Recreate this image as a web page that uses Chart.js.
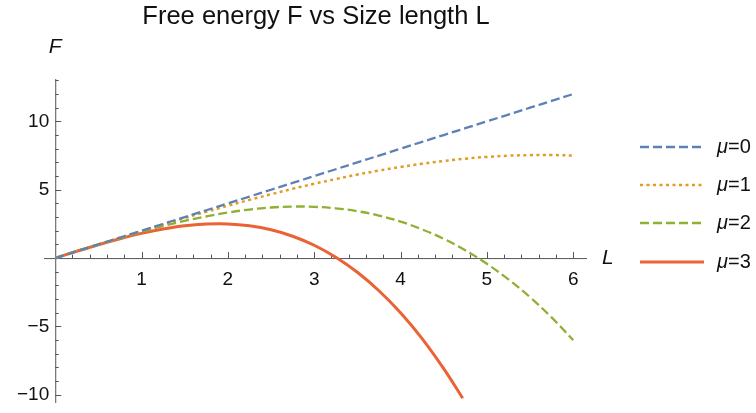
<!DOCTYPE html>
<html>
<head>
<meta charset="utf-8">
<script src="https://cdn.jsdelivr.net/npm/chart.js@4/dist/chart.umd.min.js"></script>
<style>
    html, body { margin: 0; padding: 0; background: #fff; }
    #wrap { width: 756px; height: 413px; position: relative; }
</style>
</head>
<body>
<div id="wrap"><canvas id="freeEnergyChart" width="756" height="413"></canvas></div>
<script>
const lengths = [0, 0.25, 0.5, 0.75, 1, 1.25, 1.5, 1.75, 2, 2.25, 2.5, 2.75, 3, 3.25, 3.5, 3.75, 4, 4.25, 4.5, 4.75, 5, 5.25, 5.5, 5.75, 6];
const lengthsMu3 = [0, 0.25, 0.5, 0.75, 1, 1.25, 1.5, 1.75, 2, 2.25, 2.5, 2.75, 3, 3.25, 3.5, 3.75, 4, 4.25, 4.5, 4.72];

const energyMu0 = [0, 0.5, 1, 1.5, 2, 2.5, 3, 3.5, 4, 4.5, 5, 5.5, 6, 6.5, 7, 7.5, 8, 8.5, 9, 9.5, 10, 10.5, 11, 11.5, 12];
const energyMu1 = [0, 0.5, 1.0, 1.49, 1.98, 2.46, 2.93, 3.39, 3.83, 4.26, 4.67, 5.07, 5.44, 5.78, 6.11, 6.40, 6.67, 6.90, 7.10, 7.27, 7.40, 7.49, 7.53, 7.54, 7.50];
const energyMu2 = [0, 0.5, 0.99, 1.46, 1.92, 2.34, 2.72, 3.05, 3.33, 3.55, 3.70, 3.77, 3.75, 3.64, 3.43, 3.11, 2.67, 2.10, 1.41, 0.57, -0.42, -1.56, -2.86, -4.34, -6.00];
const energyMu3 = [0, 0.5, 0.98, 1.42, 1.81, 2.13, 2.37, 2.49, 2.50, 2.36, 2.07, 1.60, 0.94, 0.06, -1.04, -2.39, -4.00, -5.89, -8.09, -10.25];

const seriesLabels = ['0', '1', '2', '3'];
const xTickLabels = ['1', '2', '3', '4', '5', '6'];
const yTickValues = [-10, -5, 5, 10];

const FONT = '"Liberation Sans", Arial, sans-serif';
const colors = ['#5e81b5', '#e19c24', '#8fb032', '#eb6235'];
const dashes = [[9, 4], [3, 3.5], [9, 4], []];
const widths = [2.3, 2.5, 2.3, 3];

const toPoints = (xs, ys) => ys.map((y, i) => ({x: xs[i], y: y}));

// axes through the origin, with Mathematica-style inward ticks
const originAxes = {
    id: 'originAxes',
    beforeDatasetsDraw(chart) {
        const {ctx, scales: {x, y}} = chart;
        const x0 = x.getPixelForValue(0);
        const y0 = y.getPixelForValue(0);
        ctx.save();
        ctx.strokeStyle = '#555';
        ctx.lineWidth = 1;

        ctx.beginPath();
        ctx.moveTo(x.left, y0 + 0.5);
        ctx.lineTo(x.right, y0 + 0.5);
        ctx.moveTo(x0 + 0.5, y.top);
        ctx.lineTo(x0 + 0.5, y.bottom);
        ctx.stroke();

        // x ticks every 0.2, longer at whole numbers
        ctx.beginPath();
        for (let i = 1; i <= 30; i++) {
            const px = Math.round(x.getPixelForValue(i * 0.2)) + 0.5;
            const len = i % 5 === 0 ? 6 : 3.5;
            ctx.moveTo(px, y0);
            ctx.lineTo(px, y0 - len);
        }
        // y ticks every 1, longer at multiples of 5
        for (let v = -10; v <= 13; v++) {
            if (v === 0) continue;
            const py = Math.round(y.getPixelForValue(v)) + 0.5;
            const len = v % 5 === 0 ? 6 : 3.5;
            ctx.moveTo(x0, py);
            ctx.lineTo(x0 + len, py);
        }
        ctx.stroke();

        ctx.fillStyle = '#111';
        ctx.font = '19px ' + FONT;
        ctx.textAlign = 'center';
        ctx.textBaseline = 'middle';
        xTickLabels.forEach((t) => {
            ctx.fillText(t, x.getPixelForValue(Number(t)), y0 + 22);
        });
        ctx.textAlign = 'right';
        yTickValues.forEach((v) => {
            const txt = v < 0 ? '\u2212' + Math.abs(v) : String(v);
            ctx.fillText(txt, x0 - 6, y.getPixelForValue(v));
        });
        ctx.restore();
    },
    afterDraw(chart) {
        const {ctx, scales: {x, y}} = chart;
        ctx.save();
        ctx.fillStyle = '#111';
        ctx.textBaseline = 'middle';

        ctx.font = '25.5px ' + FONT;
        ctx.textAlign = 'center';
        ctx.fillText('Free energy F vs Size length L', 316, 17);

        ctx.font = 'italic 21px ' + FONT;
        ctx.fillText('F', x.getPixelForValue(0), 47);
        ctx.textAlign = 'left';
        ctx.fillText('L', 602, y.getPixelForValue(0));

        // legend
        const rows = [147, 185, 223, 262];
        rows.forEach((ry, i) => {
            ctx.beginPath();
            ctx.strokeStyle = colors[i];
            ctx.lineWidth = i === 3 ? 3 : 2.3;
            ctx.setLineDash(dashes[i]);
            ctx.moveTo(640, ry);
            ctx.lineTo(704, ry);
            ctx.stroke();
            ctx.setLineDash([]);

            ctx.font = 'italic 20px ' + FONT;
            ctx.fillText('\u03bc', 717, ry);
            const w = ctx.measureText('\u03bc').width;
            ctx.font = '20px ' + FONT;
            ctx.fillText('=' + seriesLabels[i], 717 + w, ry);
        });
        ctx.restore();
    }
};

const datasets = [energyMu0, energyMu1, energyMu2, energyMu3].map((vals, i) => ({
    label: '\u03bc=' + seriesLabels[i],
    data: toPoints(i === 3 ? lengthsMu3 : lengths, vals),
    borderColor: colors[i],
    borderDash: dashes[i],
    borderWidth: widths[i],
    pointRadius: 0,
    tension: 0.4,
    fill: false,
}));

new Chart(document.getElementById('freeEnergyChart'), {
    type: 'line',
    data: {datasets: datasets},
    options: {
        responsive: false,
        animation: false,
        layout: {
            padding: {left: 44, right: 169, top: 79, bottom: 10},
        },
        plugins: {
            legend: {display: false},
            title: {display: false},
            tooltip: {enabled: false},
        },
        scales: {
            x: {type: 'linear', min: -0.13, max: 6.16, display: false},
            y: {type: 'linear', min: -10.6, max: 13.1, display: false},
        },
    },
    plugins: [originAxes],
});
</script>
</body>
</html>
